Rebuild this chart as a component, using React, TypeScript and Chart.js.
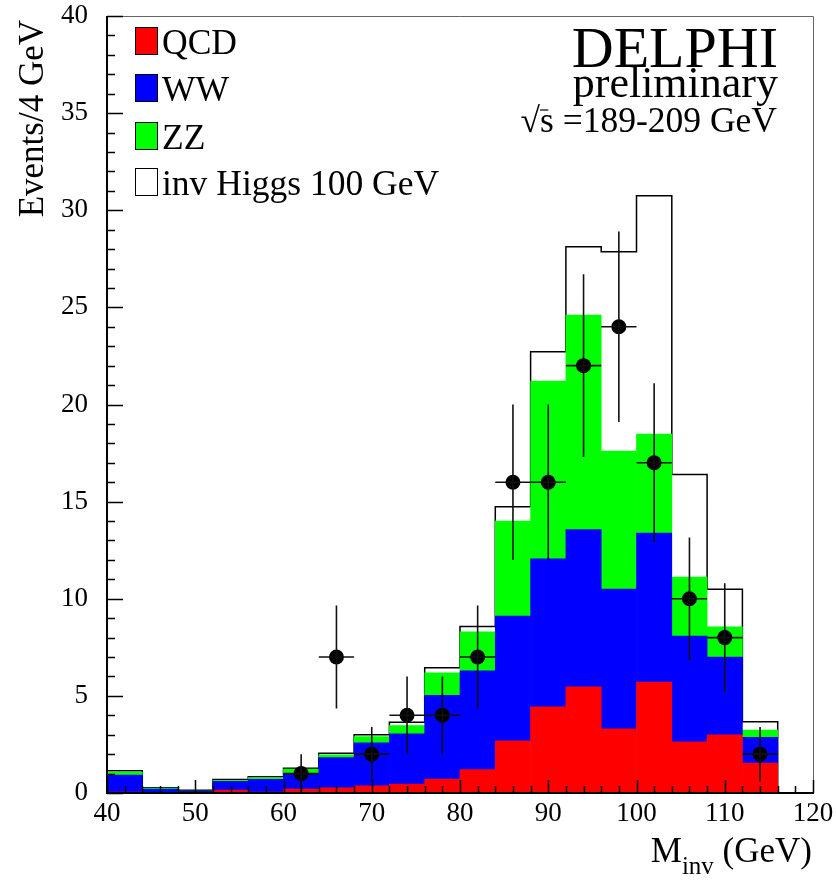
import React, { useEffect, useRef } from "react";
import { Chart, registerables } from "chart.js";

Chart.register(...registerables);

// Bin centres (4 GeV bins from 40 to 116)
const binCenters = [42, 46, 50, 54, 58, 62, 66, 70, 74, 78, 82, 86, 90, 94, 98, 102, 106, 110, 114];
const binEdges = [40, 44, 48, 52, 56, 60, 64, 68, 72, 76, 80, 84, 88, 92, 96, 100, 104, 108, 112, 116];

// Stacked background contributions (events / 4 GeV)
const qcd = [0.05, 0.02, 0.02, 0.15, 0.05, 0.2, 0.27, 0.37, 0.46, 0.72, 1.2, 2.69, 4.44, 5.46, 3.3, 5.71, 2.63, 2.99, 1.54];
const ww = [0.87, 0.18, 0.06, 0.45, 0.65, 0.8, 1.55, 2.21, 2.58, 4.31, 5.09, 6.42, 7.61, 8.1, 7.2, 7.67, 5.45, 4.01, 1.33];
const zz = [0.16, 0.05, 0.02, 0.05, 0.09, 0.23, 0.15, 0.32, 0.43, 1.16, 2.01, 4.89, 9.15, 11.04, 7.1, 5.1, 3.04, 1.55, 0.37];
// Total with invisible Higgs (100 GeV) signal on top
const higgsTotal = [1.15, 0.27, 0.14, 0.7, 0.84, 1.27, 2.04, 3.0, 3.64, 6.45, 8.57, 14.74, 22.72, 28.12, 27.87, 30.75, 16.4, 10.49, 3.67];

// Data points
const dataX = [62, 66, 70, 74, 78, 82, 86, 90, 94, 98, 102, 106, 110, 114];
const dataY = [1, 7, 2, 4, 4, 7, 16, 16, 22, 24, 17, 10, 8, 2];
const dataErr = [1.0, 2.65, 1.4, 2.0, 2.0, 2.65, 4.0, 4.0, 4.7, 4.9, 4.1, 3.15, 2.8, 1.4];
const halfBin = 2;

const yTickLabels = ["0", "5", "10", "15", "20", "25", "30", "35", "40"];
const xTickLabels = ["40", "50", "60", "70", "80", "90", "100", "110", "120"];

const legendItems = [
  { label: "QCD", color: "#ff0000" },
  { label: "WW", color: "#0000ff" },
  { label: "ZZ", color: "#00ff00" },
  { label: "inv Higgs 100 GeV", color: "#ffffff" },
];

const SERIF = '"Liberation Serif", "Times New Roman", serif';

const decorPlugin = {
  id: "decor",
  afterDatasetsDraw(chart: any) {
    const ctx = chart.ctx;
    const xs = chart.scales.x;
    const ys = chart.scales.y;
    const { left, right, top, bottom } = chart.chartArea;

    // error bars
    ctx.save();
    ctx.strokeStyle = "#111";
    ctx.lineWidth = 1.6;
    for (let i = 0; i < dataX.length; i++) {
      const cx = xs.getPixelForValue(dataX[i]);
      const cy = ys.getPixelForValue(dataY[i]);
      ctx.beginPath();
      ctx.moveTo(xs.getPixelForValue(dataX[i] - halfBin), cy);
      ctx.lineTo(xs.getPixelForValue(dataX[i] + halfBin), cy);
      ctx.moveTo(cx, ys.getPixelForValue(Math.max(0, dataY[i] - dataErr[i])));
      ctx.lineTo(cx, ys.getPixelForValue(dataY[i] + dataErr[i]));
      ctx.stroke();
    }
    ctx.restore();

    // frame
    ctx.save();
    ctx.strokeStyle = "#666";
    ctx.lineWidth = 1;
    ctx.beginPath();
    ctx.moveTo(left, top + 0.5);
    ctx.lineTo(right + 0.5, top + 0.5);
    ctx.lineTo(right + 0.5, bottom);
    ctx.stroke();
    ctx.strokeStyle = "#000";
    ctx.lineWidth = 2;
    ctx.beginPath();
    ctx.moveTo(left, top);
    ctx.lineTo(left, bottom);
    ctx.lineTo(right + 1, bottom);
    ctx.stroke();

    // ticks
    ctx.lineWidth = 1.5;
    ctx.beginPath();
    for (let v = 0; v <= 40; v += 1) {
      const py = Math.round(ys.getPixelForValue(v)) + 0.5;
      const len = v % 5 === 0 ? 16 : 8;
      ctx.moveTo(left, py);
      ctx.lineTo(left + len, py);
    }
    for (let v = 40; v <= 120; v += 2) {
      const px = Math.round(xs.getPixelForValue(v)) + 0.5;
      const len = v % 10 === 0 ? 13 : 7;
      ctx.moveTo(px, bottom);
      ctx.lineTo(px, bottom - len);
    }
    ctx.stroke();
    ctx.restore();
  },
  afterDraw(chart: any) {
    const ctx = chart.ctx;
    ctx.save();
    ctx.fillStyle = "#000";
    ctx.textBaseline = "alphabetic";

    // legend
    const boxX = 135, boxW = 22, boxH = 27;
    const rowTops = [27, 74, 122, 168];
    ctx.font = `35.5px ${SERIF}`;
    legendItems.forEach((it, i) => {
      const y = rowTops[i];
      ctx.fillStyle = it.color;
      ctx.fillRect(boxX, y, boxW, boxH);
      ctx.strokeStyle = "#000";
      ctx.lineWidth = 1;
      ctx.strokeRect(boxX + 0.5, y + 0.5, boxW, boxH);
      ctx.fillStyle = "#000";
      ctx.textAlign = "left";
      ctx.fillText(it.label, 162, y + boxH);
    });

    // DELPHI labels
    ctx.textAlign = "right";
    ctx.font = `58px ${SERIF}`;
    ctx.fillText("DELPHI", 778, 67);
    ctx.font = `44px ${SERIF}`;
    ctx.fillText("preliminary", 778, 97);
    ctx.font = `35.5px ${SERIF}`;
    const rest = " =189-209 GeV";
    const restW = ctx.measureText(rest).width;
    ctx.fillText(rest, 777, 132);
    const sW = ctx.measureText("s").width;
    const sqW = ctx.measureText("\u221A").width;
    const sX = 777 - restW - sW;
    ctx.textAlign = "left";
    ctx.fillText("s", sX, 132);
    ctx.fillText("\u221A", sX - sqW, 132);
    ctx.lineWidth = 1.2;
    ctx.strokeStyle = "#000";
    ctx.beginPath();
    ctx.moveTo(sX, 110);
    ctx.lineTo(sX + sW * 0.6, 110);
    ctx.stroke();

    // axis titles
    ctx.font = `35px ${SERIF}`;
    ctx.textAlign = "right";
    const gevW = ctx.measureText(" (GeV)").width;
    ctx.fillText(" (GeV)", 812, 862);
    ctx.font = `25px ${SERIF}`;
    const invW = ctx.measureText("inv").width;
    ctx.fillText("inv", 812 - gevW, 874);
    ctx.font = `35px ${SERIF}`;
    ctx.fillText("M", 812 - gevW - invW, 862);

    ctx.translate(43, 20);
    ctx.rotate(-Math.PI / 2);
    ctx.font = `35px ${SERIF}`;
    ctx.textAlign = "right";
    ctx.fillText("Events/4 GeV", 0, 0);
    ctx.restore();
  },
};

export default function App() {
  const ref = useRef<HTMLCanvasElement | null>(null);
  useEffect(() => {
    if (!ref.current) return;
    const barData = (vals: number[]) => binCenters.map((x, i) => ({ x, y: vals[i] }));
    const outline = binEdges.map((x, i) => ({ x, y: i < higgsTotal.length ? higgsTotal[i] : 0 }));
    const chart = new Chart(ref.current, {
      type: "bar",
      data: {
        datasets: [
          { type: "bar", label: "QCD", data: barData(qcd), backgroundColor: "#ff0000", stack: "bg", order: 1, barPercentage: 1, categoryPercentage: 1, borderWidth: 0 } as any,
          { type: "bar", label: "WW", data: barData(ww), backgroundColor: "#0000ff", stack: "bg", order: 1, barPercentage: 1, categoryPercentage: 1, borderWidth: 0 } as any,
          { type: "bar", label: "ZZ", data: barData(zz), backgroundColor: "#00ff00", stack: "bg", order: 1, barPercentage: 1, categoryPercentage: 1, borderWidth: 0 } as any,
          { type: "line", label: "inv Higgs 100 GeV", data: outline, stack: "sig", order: 5, stepped: "before", borderColor: "#000", borderWidth: 1.5, pointRadius: 0, fill: false, tension: 0 } as any,
          { type: "scatter", label: "Data", data: dataX.map((x, i) => ({ x, y: dataY[i] })), stack: "data", order: 0, pointRadius: 7.5, pointBackgroundColor: "#000", pointBorderColor: "#000", borderWidth: 0, showLine: false } as any,
        ],
      },
      options: {
        animation: false,
        responsive: false,
        devicePixelRatio: 1,
        layout: { padding: { left: 0, right: 23, top: 16, bottom: 0 } },
        plugins: { legend: { display: false }, tooltip: { enabled: false }, title: { display: false } },
        scales: {
          x: {
            type: "linear",
            min: 40,
            max: 120,
            stacked: true,
            offset: false,
            afterFit: (s: any) => { s.height = 87; s.paddingLeft = 0; s.paddingRight = 0; },
            afterBuildTicks: (s: any) => { s.ticks = xTickLabels.map((l) => ({ value: Number(l) })); },
            grid: { display: false, drawTicks: false, tickLength: 0 },
            border: { display: false },
            ticks: { color: "#000", font: { family: SERIF, size: 27 }, padding: 5, maxRotation: 0, autoSkip: false },
          },
          y: {
            type: "linear",
            min: 0,
            max: 40,
            stacked: true,
            afterFit: (s: any) => { s.width = 107; s.paddingTop = 0; s.paddingBottom = 0; },
            afterBuildTicks: (s: any) => { s.ticks = yTickLabels.map((l) => ({ value: Number(l) })); },
            grid: { display: false, drawTicks: false, tickLength: 0 },
            border: { display: false },
            ticks: { color: "#000", font: { family: SERIF, size: 27 }, padding: 19, autoSkip: false },
          },
        },
      } as any,
      plugins: [decorPlugin],
    });
    return () => chart.destroy();
  }, []);
  return (
    <div style={{ position: "absolute", left: 0, top: 0, width: 836, height: 880, background: "#fff" }}>
      <canvas ref={ref} width={836} height={880} style={{ display: "block", width: 836, height: 880 }} />
    </div>
  );
}
